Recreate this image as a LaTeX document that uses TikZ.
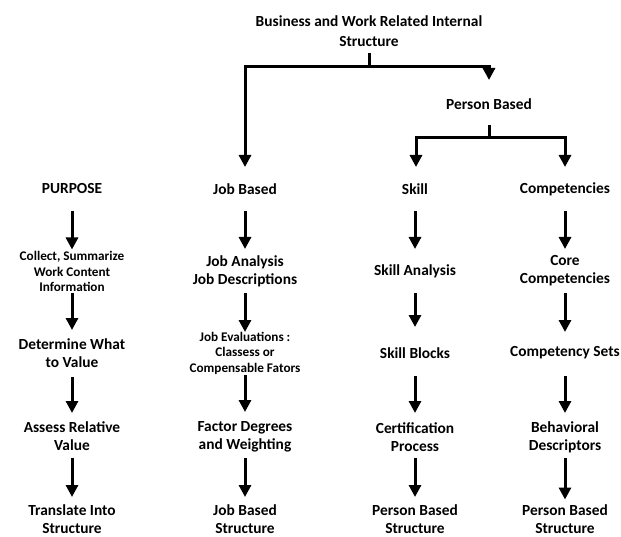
\documentclass[tikz,border=0pt]{standalone}
\usepackage{fontspec}
\setmainfont{Carlito}
\usetikzlibrary{arrows.meta}
\begin{document}
\begin{tikzpicture}[x=1pt,y=-1pt,
  lbl/.style={font=\bfseries\fontsize{15.4}{18}\selectfont, align=center, inner sep=0pt, text=black},
  ttl/.style={font=\bfseries\fontsize{15.4}{20}\selectfont, align=center, inner sep=0pt, text=black},
  sml/.style={font=\bfseries\fontsize{13.2}{15.5}\selectfont, align=center, inner sep=0pt, text=black},
  tipA/.tip={Triangle[width=12pt,length=12pt]},
  arr/.style={line width=3pt, -tipA, shorten <=22pt, shorten >=22pt},
  conn/.style={line width=3pt}]
\path[use as bounding box] (0,0) rectangle (621,537);

% top
\node[ttl] (title) at (369,31) {Business and Work Related Internal\\Structure};
\coordinate (t0) at (369,53);
\coordinate (t1) at (369,67);
\node[lbl] (pb) at (489,104) {Person Based};
\coordinate (p0) at (489,125);
\coordinate (p1) at (489,138);

% column 1
\node[lbl] (c1a) at (72,189) {PURPOSE};
\node[sml] (c1b) at (72,271.5) {Collect, Summarize\\Work Content\\Information};
\node[lbl] (c1c) at (72,353.5) {Determine What\\to Value};
\node[lbl] (c1d) at (72,436.5) {Assess Relative\\Value};
\node[lbl] (c1e) at (72,519) {Translate Into\\Structure};

% column 2
\node[lbl] (c2a) at (245,189) {Job Based};
\node[lbl] (c2b) at (245,271) {Job Analysis\\Job Descriptions};
\node[sml] (c2c) at (245,353) {Job Evaluations :\\Classess or\\Compensable Fators};
\node[lbl] (c2d) at (245,437) {Factor Degrees\\and Weighting};
\node[lbl] (c2e) at (245,519) {Job Based\\Structure};

% column 3
\node[lbl] (c3a) at (415,189) {Skill};
\node[lbl] (c3b) at (415,271) {Skill Analysis};
\node[lbl] (c3c) at (415,353) {Skill Blocks};
\node[lbl] (c3d) at (415,437) {Certification\\Process};
\node[lbl] (c3e) at (415,519) {Person Based\\Structure};

% column 4
\node[lbl] (c4a) at (565,189) {Competencies};
\node[lbl] (c4b) at (565,271) {Core\\Competencies};
\node[lbl] (c4c) at (565,353) {Competency Sets};
\node[lbl] (c4d) at (565,437) {Behavioral\\Descriptors};
\node[lbl] (c4e) at (565,519.5) {Person Based\\Structure};

% top connectors
\draw[arr, shorten <=0pt] (t0) -- (t1) -| (c2a.center);
\draw[arr, shorten <=0pt, shorten >=24pt] (t1) -| (pb.center);
\draw[arr, shorten <=0pt] (p0) -- (p1) -| ([xshift=1pt]c3a.center);
\draw[arr, shorten <=0pt] (p1) -| (c4a.center);

% column arrows
\draw[arr] (c1a.center) -- (c1b.center);
\draw[arr, shorten <=21.5pt, shorten >=23.5pt] (c1b.center) -- (c1c.center);
\draw[arr, shorten <=23.5pt, shorten >=23.5pt] (c1c.center) -- (c1d.center);
\draw[arr, shorten <=21.5pt] (c1d.center) -- (c1e.center);

\draw[arr] (c2a.center) -- (c2b.center);
\draw[arr, shorten >=21pt] (c2b.center) -- (c2c.center);
\draw[arr, shorten >=25pt] (c2c.center) -- (c2d.center);
\draw[arr, shorten <=21pt] (c2d.center) -- (c2e.center);

\draw[arr] (c3a.center) -- (c3b.center);
\draw[arr, shorten >=26pt] (c3b.center) -- (c3c.center);
\draw[arr, shorten <=23pt, shorten >=24pt] (c3c.center) -- (c3d.center);
\draw[arr, shorten <=21pt] (c3d.center) -- (c3e.center);

\draw[arr] (c4a.center) -- (c4b.center);
\draw[arr, shorten >=21pt] (c4b.center) -- (c4c.center);
\draw[arr, shorten <=23pt, shorten >=24pt] (c4c.center) -- (c4d.center);
\draw[arr, shorten <=21pt, shorten >=20pt] (c4d.center) -- (c4e.center);
\end{tikzpicture}
\end{document}
